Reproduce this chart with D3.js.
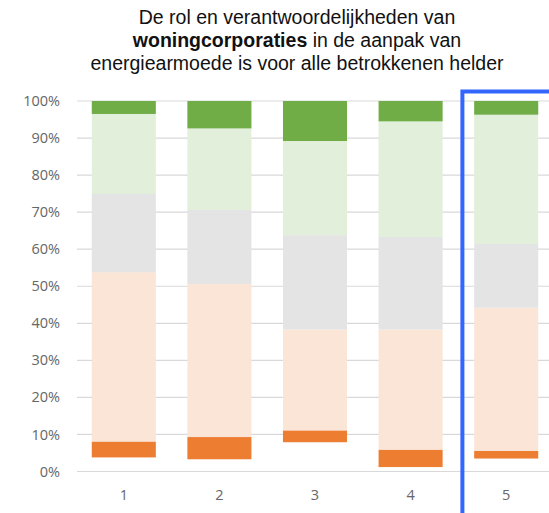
<!DOCTYPE html>
<html><head><meta charset="utf-8">
<script src="https://cdn.jsdelivr.net/npm/d3@7"></script>
<style>body{margin:0;background:#fff;} svg{display:block;}</style>
</head><body>
<svg id="c" width="549" height="513"></svg>
<script>
const categories = ["1","2","3","4","5"];
const seriesNames = ["blank","zeerOneens","oneens","neutraal","eens","zeerEens"];
const blank      = [3.8, 3.3, 7.9, 1.2, 3.5];
const zeerOneens = [4.3, 6.0, 3.2, 4.7, 2.1];
const oneens     = [45.7, 41.3, 27.2, 32.4, 38.6];
const neutraal   = [21.1, 20.0, 25.5, 25.0, 17.2];
const eens       = [21.6, 22.0, 25.4, 31.2, 34.9];
const zeerEens   = [3.5, 7.4, 10.8, 5.5, 3.7];
const yTicks = [0,10,20,30,40,50,60,70,80,90,100];
const highlighted = "5";

const colors = {blank:"none", zeerOneens:"#ed7d31", oneens:"#fbe5d6", neutraal:"#e4e4e4", eens:"#e2efda", zeerEens:"#70ad47"};
const seriesData = {blank, zeerOneens, oneens, neutraal, eens, zeerEens};

const svg = d3.select("#c");
const x = d3.scaleBand().domain(categories).range([76, 554]).paddingInner(0.33).paddingOuter(0.165);
const y = d3.scaleLinear().domain([0,100]).range([471.5, 101]);

// title
const tg = svg.append("g").attr("text-anchor","middle").attr("font-family","Liberation Sans, Arial, sans-serif").attr("font-size",19).attr("fill","#111");
const t1 = tg.append("text").attr("x",297).attr("y",24).text("De rol en verantwoordelijkheden van");
const l2 = tg.append("text").attr("x",297).attr("y",47);
l2.append("tspan").attr("font-weight","bold").text("woningcorporaties");
l2.append("tspan").text(" in de aanpak van");
const t3 = tg.append("text").attr("x",297).attr("y",70).text("energiearmoede is voor alle betrokkenen helder");
const w3 = t3.node().getComputedTextLength();
const fs = Math.min(19.5, 19 * 435 / w3);
tg.attr("font-size", fs);

// grid
svg.append("g").selectAll("line").data(yTicks).join("line")
  .attr("x1",77).attr("x2",549).attr("y1",d=>y(d)).attr("y2",d=>y(d))
  .attr("stroke","#d9d9d9").attr("stroke-width",1.2);

// y labels
svg.append("g").selectAll("text").data(yTicks).join("text")
  .attr("x",60).attr("y",d=>y(d)).attr("dy","0.35em").attr("text-anchor","end")
  .attr("font-family","Open Sans, sans-serif").attr("font-size",14.5).attr("fill","#666")
  .text(d=>d+"%");

// stacks
const table = categories.map((c,i)=>{const o={cat:c}; seriesNames.forEach(s=>o[s]=seriesData[s][i]); return o;});
const stack = d3.stack().keys(seriesNames)(table);
svg.append("g").selectAll("g").data(stack).join("g")
  .attr("fill",d=>colors[d.key])
  .selectAll("rect").data(d=>d).join("rect")
  .attr("x",d=>x(d.data.cat)).attr("width",x.bandwidth())
  .attr("y",d=>y(d[1])).attr("height",d=>y(d[0])-y(d[1]));

// x labels
svg.append("g").selectAll("text").data(categories).join("text")
  .attr("x",d=>x(d)+x.bandwidth()/2).attr("y",500).attr("text-anchor","middle")
  .attr("font-family","Open Sans, sans-serif").attr("font-size",14.5).attr("fill","#666")
  .text(d=>d);

// highlight box
const hx = x(highlighted) - (x.step()-x.bandwidth())/2 + 4;
svg.append("path").attr("d",`M${hx},515 V${91.5} H560`).attr("fill","none").attr("stroke","#3366ff").attr("stroke-width",4);
</script>
</body></html>
